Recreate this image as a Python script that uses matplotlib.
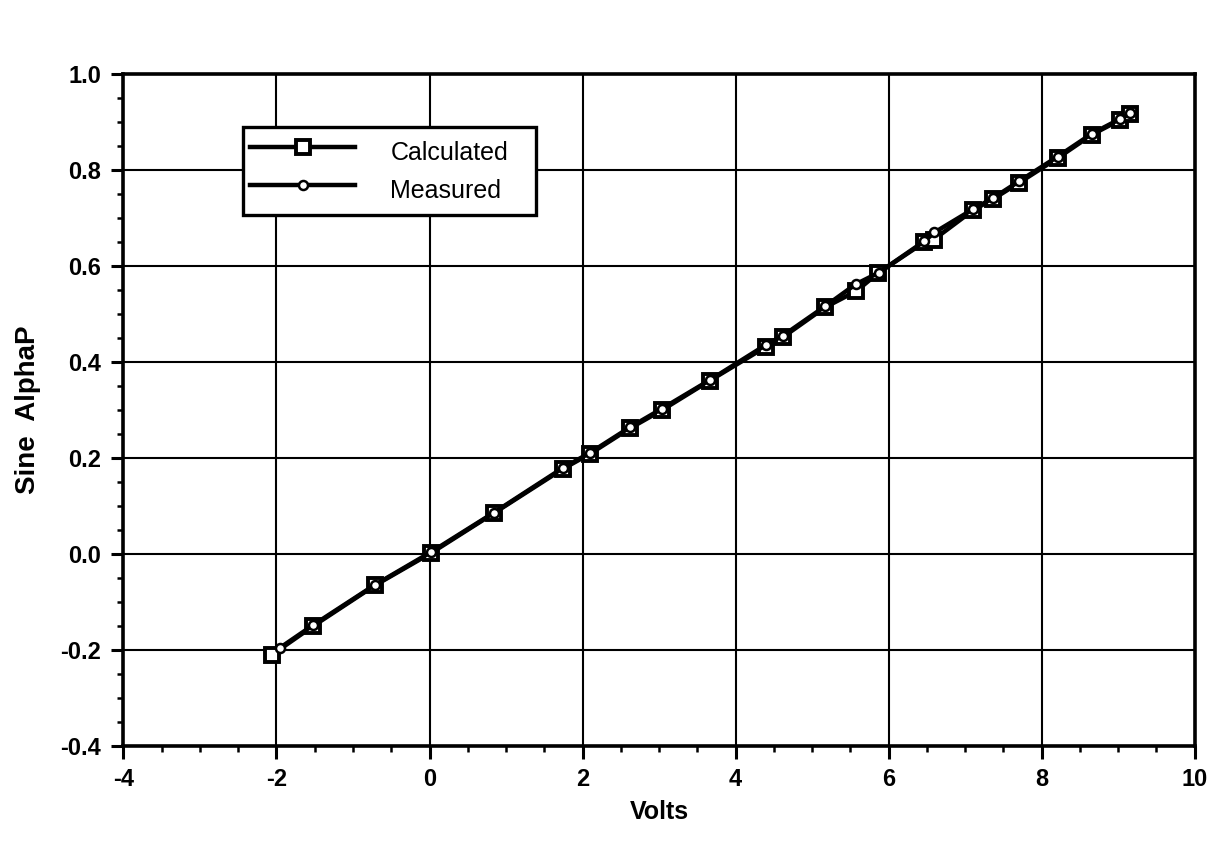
import matplotlib
matplotlib.use("Agg")
import matplotlib.pyplot as plt
from matplotlib.ticker import MultipleLocator, FormatStrFormatter

# ---- data ----
calc_volts = [-2.06, -1.52, -0.71, 0.02, 0.84, 1.75, 2.10, 2.62, 3.04, 3.66, 4.40, 4.62,
              5.17, 5.58, 5.86, 6.47, 6.59, 7.11, 7.37, 7.71, 8.21, 8.66, 9.02, 9.16]
calc_sine = [-0.210, -0.150, -0.065, 0.002, 0.085, 0.178, 0.209, 0.262, 0.300, 0.361, 0.432, 0.452,
             0.514, 0.548, 0.585, 0.650, 0.655, 0.717, 0.740, 0.774, 0.825, 0.874, 0.904, 0.917]
meas_volts = [-1.95, -1.52, -0.71, 0.02, 0.84, 1.75, 2.10, 2.62, 3.04, 3.66, 4.40, 4.62,
              5.17, 5.57, 5.87, 6.47, 6.60, 7.11, 7.37, 7.71, 8.21, 8.66, 9.02, 9.16]
meas_sine = [-0.195, -0.148, -0.064, 0.004, 0.086, 0.180, 0.211, 0.264, 0.303, 0.362, 0.436, 0.455,
             0.516, 0.562, 0.586, 0.652, 0.670, 0.719, 0.742, 0.777, 0.828, 0.876, 0.906, 0.918]

series_labels = ["Calculated", "Measured"]
x_label = "Volts"
y_label = "Sine  AlphaP"
x_range = (-4, 10)
y_range = (-0.4, 1.0)

plt.rcParams["font.family"] = ["Liberation Sans", "DejaVu Sans"]
plt.rcParams["axes.unicode_minus"] = False

fig = plt.figure(figsize=(12.13, 8.43), dpi=100)
ax = fig.add_axes([0.1018, 0.1151, 0.883, 0.797])

ax.plot(calc_volts, calc_sine, color="black", lw=3.2, marker="s", ms=10,
        mfc="white", mec="black", mew=2.8, label=series_labels[0], zorder=3)
ax.plot(meas_volts, meas_sine, color="black", lw=3.2, marker="o", ms=6.5,
        mfc="white", mec="black", mew=1.8, label=series_labels[1], zorder=4)

ax.set_xlim(*x_range)
ax.set_ylim(*y_range)
ax.xaxis.set_major_locator(MultipleLocator(2))
ax.xaxis.set_minor_locator(MultipleLocator(0.5))
ax.yaxis.set_major_locator(MultipleLocator(0.2))
ax.yaxis.set_minor_locator(MultipleLocator(0.05))
ax.yaxis.set_major_formatter(FormatStrFormatter("%.1f"))
ax.xaxis.set_major_formatter(FormatStrFormatter("%d"))

ax.grid(True, which="major", color="black", lw=1.5)
ax.set_axisbelow(True)
for s in ax.spines.values():
    s.set_linewidth(2.6)

ax.tick_params(axis="both", which="major", direction="out", length=9, width=2.2,
               labelsize=17, pad=7)
ax.tick_params(axis="both", which="minor", direction="out", length=4.5, width=1.8)
ax.tick_params(top=False, right=False, which="both")
for t in ax.get_xticklabels() + ax.get_yticklabels():
    t.set_fontweight("bold")

ax.set_xlabel(x_label, fontsize=18, fontweight="bold", labelpad=6)
ax.set_ylabel(y_label, fontsize=20, fontweight="bold", labelpad=14)

leg = ax.legend(loc="upper left", bbox_to_anchor=(-2.44, 0.664, 3.83, 0.226),
                bbox_transform=ax.transData, mode="expand", borderaxespad=0,
                fontsize=18, handlelength=4.2, handleheight=1.8, handletextpad=1.4,
                labelspacing=0.1, borderpad=0.3, numpoints=1, fancybox=False,
                framealpha=1, edgecolor="black")
leg.get_frame().set_linewidth(2.4)
leg.set_zorder(6)

fig.savefig("out.png", dpi=100, facecolor="white")
